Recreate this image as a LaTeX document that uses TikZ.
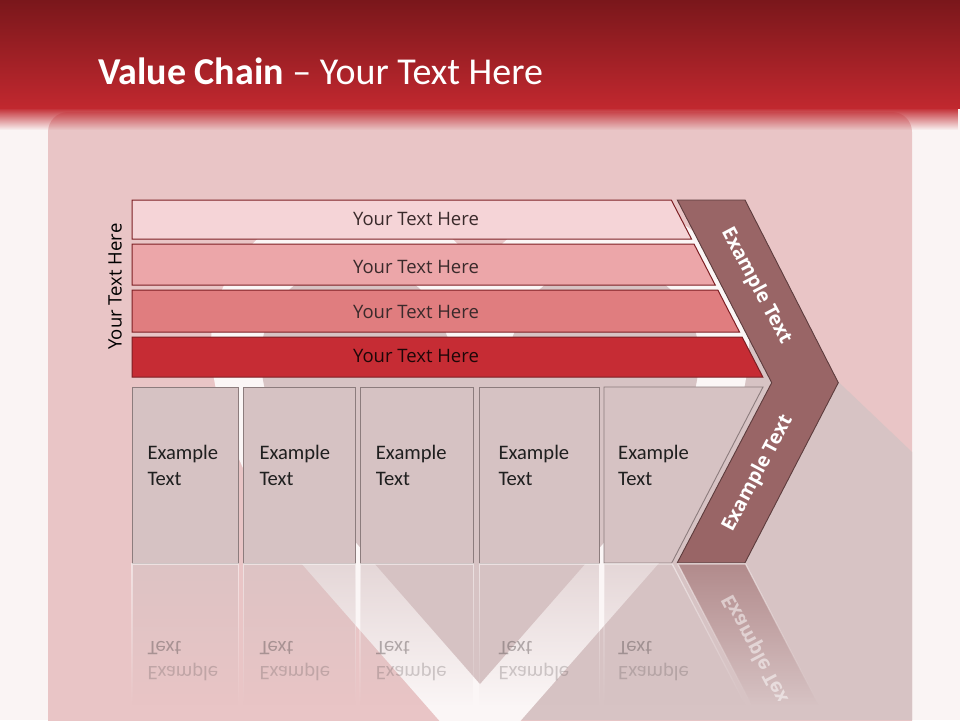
\documentclass[tikz,border=0pt]{standalone}
\usepackage{fontspec}
\setmainfont{Carlito}
\newfontfamily\osans{Open Sans}
\usetikzlibrary{fadings}
\definecolor{pagebg}{HTML}{FAF4F4}
\definecolor{panelc}{HTML}{E9C5C6}
\definecolor{hshade}{HTML}{D7C3C4}
\definecolor{bandc}{HTML}{FBF6F6}
\definecolor{hdrtop}{HTML}{7A171B}
\definecolor{hdrbot}{HTML}{C1282F}
\definecolor{barA}{HTML}{F5D4D7}
\definecolor{barB}{HTML}{ECA6A9}
\definecolor{barC}{HTML}{E07D7F}
\definecolor{barD}{HTML}{C62C34}
\definecolor{barline}{HTML}{7D1F24}
\definecolor{boxfill}{HTML}{D6C2C3}
\definecolor{boxline}{HTML}{8C7C7D}
\definecolor{chev}{HTML}{996566}
\definecolor{chevline}{HTML}{5D3C3D}
\definecolor{bartext}{HTML}{3A2A2B}
\tikzfading[name=hdrfade, top color=transparent!0, bottom color=transparent!100]
\tikzfading[name=reflfade, top color=transparent!40, bottom color=transparent!100]
\begin{document}
\begin{tikzpicture}[x=1pt,y=-1pt,
  bar/.style={draw=barline, line width=1pt},
  bartxt/.style={font=\osans\fontsize{18.5}{22}\selectfont, text=bartext, anchor=base, inner sep=0pt},
  vbox/.style={fill=boxfill, draw=boxline, line width=0.9pt},
  boxtxt/.style={font=\fontsize{20.6}{25.7}\selectfont, text=black!88, anchor=base west, inner sep=0pt},
  refltxt/.style={font=\fontsize{20.6}{25.7}\selectfont, text=black!55!boxfill, anchor=base west, inner sep=0pt, yscale=-1},
  refl/.style={fill=boxfill, draw=bandc, line width=1.2pt, path fading=reflfade},
  chevtxt/.style={font=\osans\bfseries\fontsize{19.5}{22}\selectfont, text=white, inner sep=0pt}
]
\useasboundingbox (0,0) rectangle (960,720);
\clip (0,0) rectangle (960,720);
% page and panel
\fill[pagebg] (0,0) rectangle (960,720);
\fill[panelc, rounded corners=20] (48,112) rectangle (912,760);
% shadow of the heart
\fill[hshade] (700,250) -- (912,452) -- (912,720) -- (522,720) -- (605,345) -- cycle;
% heart band
\fill[bandc] (480,767) -- (301,563) .. controls (274.6,533) and (211,430) .. (211,345)
  arc[start angle=180, end angle=330.2, radius=144]
  arc[start angle=209.8, end angle=360, radius=144]
  .. controls (749,430) and (685.4,533) .. (659,563) -- cycle;
\fill[hshade] (480,684) -- (374,563) .. controls (344,529) and (261,440) .. (261,357)
  arc[start angle=180, end angle=345, radius=94]
  .. controls (450,347) and (470,366) .. (480,372)
  .. controls (490,366) and (510,347) .. (514.2,332.7)
  arc[start angle=195, end angle=360, radius=94]
  .. controls (699,440) and (616,529) .. (586,563) -- cycle;
% header
\shade[top color=hdrtop, bottom color=hdrbot] (0,0) rectangle (960,108);
\fill[hdrbot, path fading=hdrfade] (0,107.5) rectangle (960,130);
\node[font=\fontsize{38}{42}\selectfont, text=white, anchor=base west, inner sep=0pt] (title) at (98,84) {\textbf{Value Chain} – Your Text Here};
% bars
\draw[bar, fill=barA] (132,200) -- (671.3,200) -- (691.5,239) -- (132,239) -- cycle;
\draw[bar, fill=barB] (132,244) -- (694,244) -- (715.2,285) -- (132,285) -- cycle;
\draw[bar, fill=barC] (132,290) -- (717.8,290) -- (739.5,332) -- (132,332) -- cycle;
\draw[bar, fill=barD] (132,337) -- (742.1,337) -- (762.8,377) -- (132,377) -- cycle;
\node[bartxt] (t1) at (416,225) {Your Text Here};
\node[bartxt] (t2) at (416,273.3) {Your Text Here};
\node[bartxt] (t3) at (416,318.3) {Your Text Here};
\node[bartxt, text=black!85!barD] (t4) at (416,362.7) {Your Text Here};
\node[font=\osans\fontsize{18.5}{22}\selectfont, text=black, anchor=base, rotate=90, inner sep=0pt] (side) at (121.5,286.5) {Your Text Here};
% chevron
\draw[fill=chev, draw=chevline, line width=0.9pt] (677.3,200) -- (745,200) -- (838.3,382.7) -- (745,562.7) -- (677.3,562.7) -- (771.7,382.7) -- cycle;
\node[chevtxt, rotate=-62] (c1) at (756,286) {Example Text};
\node[chevtxt, rotate=62] (c2) at (758,473.5) {Example Text};
% boxes
\draw[vbox] (132,387) rectangle (238.3,563);
\draw[vbox] (243.3,387) rectangle (355.7,563);
\draw[vbox] (360,387) rectangle (473.3,563);
\draw[vbox] (479.3,387) rectangle (599.3,563);
\draw[vbox] (604,387) -- (763,387) -- (671.7,563) -- (604,563) -- cycle;
\node[boxtxt] (e1) at (147.3,459.3) {Example};
\node[boxtxt] (x1) at (147.3,485) {Text};
\node[boxtxt] (e2) at (259.3,459.3) {Example};
\node[boxtxt] (x2) at (259.3,485) {Text};
\node[boxtxt] (e3) at (375.7,459.3) {Example};
\node[boxtxt] (x3) at (375.7,485) {Text};
\node[boxtxt] (e4) at (498.3,459.3) {Example};
\node[boxtxt] (x4) at (498.3,485) {Text};
\node[boxtxt] (e5) at (618,459.3) {Example};
\node[boxtxt] (x5) at (618,485) {Text};
% reflection
\path[refl] (132,564) rectangle (238.3,705);
\path[refl] (243.3,564) rectangle (355.7,705);
\path[refl] (360,564) rectangle (473.3,705);
\path[refl] (479.3,564) rectangle (599.3,705);
\path[refl] (604,564) -- (672.2,564) -- (745.5,705) -- (604,705) -- cycle;
\path[refl, fill=chev, draw=bandc] (677.8,564) -- (745.5,564) -- (818.6,705) -- (751.7,705) -- cycle;
\foreach \xx/\nm in {147.3/1,259.3/2,375.7/3,498.3/4,618/5}{
  \node[refltxt, opacity=0.45] (rx\nm) at (\xx,641) {Text};
  \node[refltxt, opacity=0.28] (re\nm) at (\xx,666.7) {Example};
}
\begin{scope}
\clip (600,563) rectangle (912,700);
\node[chevtxt, opacity=0.5, yscale=-1, rotate=62] (rc) at (758,652.5) {Example Text};
\end{scope}
\end{tikzpicture}
\end{document}
